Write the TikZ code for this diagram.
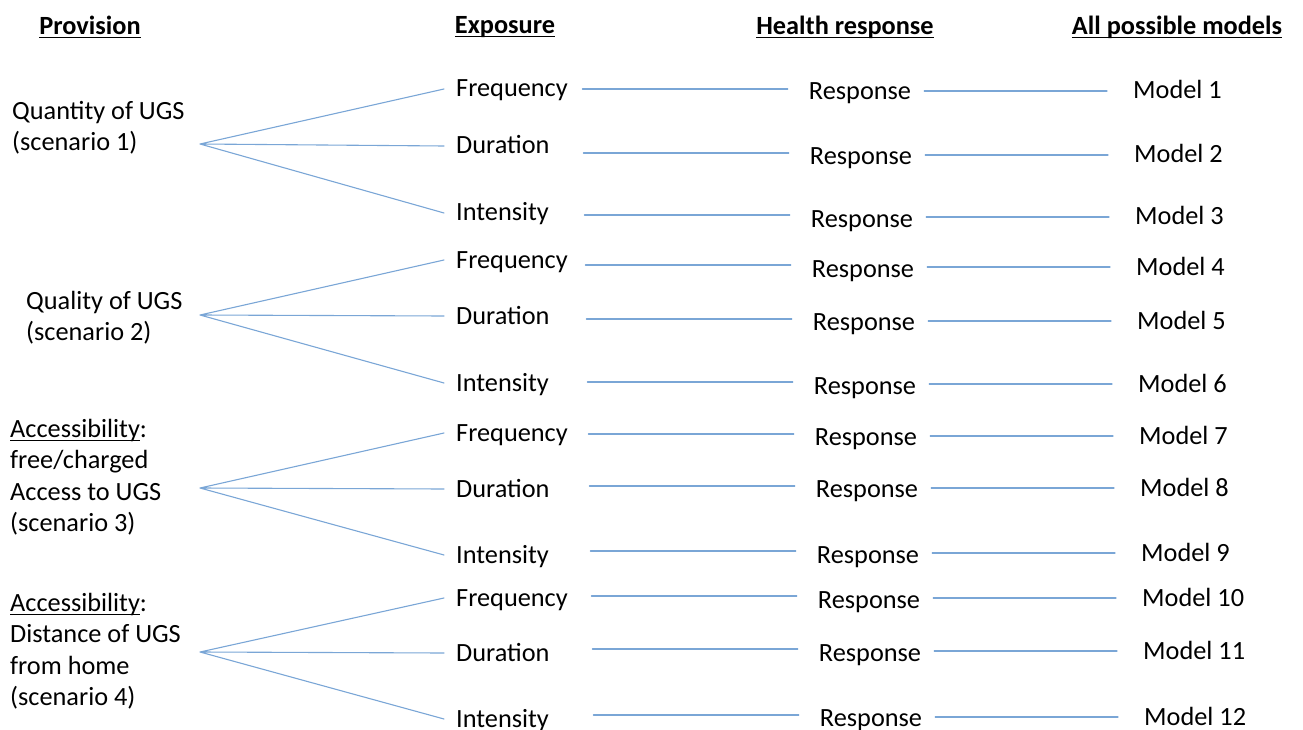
\documentclass[tikz,border=0pt]{standalone}
\usepackage{fontspec}
\setmainfont{Carlito}
\usetikzlibrary{calc}
\definecolor{linkblue}{RGB}{122,166,214}
\newlength\undlw
\newcommand{\undl}[1]{\settowidth{\undlw}{#1}\rlap{\rule[-4pt]{\undlw}{1.3pt}}#1}
\newcommand{\bodyfont}{\fontsize{26.3}{31.5}\selectfont}
\tikzset{
	link/.style={draw=linkblue, line width=1.1pt},
	head/.style={font=\bodyfont\bfseries, inner sep=0pt},
	prov/.style={anchor=west, align=left, inner sep=0pt},
	expo/.style={anchor=west, text width=114pt, inner xsep=12pt, inner ysep=0pt, text height=16pt, text depth=0pt},
	resp/.style={inner sep=0pt, text height=16pt, text depth=0pt},
	model/.style={anchor=west, inner sep=0pt, text height=16pt, text depth=0pt},
}
\begin{document}
\begin{tikzpicture}[
	x=1pt,
	y=-1pt,
	line join=round,
	line cap=round,
	font=\bodyfont,
	]
\useasboundingbox (0,0) rectangle (1303,730);
\node[head] (hprov) at (90,27) {\undl{Provision}};
\node[head] (hexpo) at (505,27) {\undl{Exposure}};
\node[head] (hresp) at (845,27) {\undl{Health response}};
\node[head] (hmodel) at (1177,27) {\undl{All possible models}};
\node[prov] (quantity) at (12,127.5) {Quantity of UGS\\(scenario 1)};
\node[prov] (quality) at (26,317.5) {Quality of UGS\\(scenario 2)};
\node[prov] (charge) at (10,477) {\undl{Accessibility}:\\free/charged\\Access to UGS\\(scenario 3)};
\node[prov] (distance) at (10,651) {\undl{Accessibility}:\\Distance of UGS\\from home\\(scenario 4)};
\coordinate (q) at (200,144);
\coordinate (u) at (200,315);
\coordinate (c) at (200,488);
\coordinate (d) at (200,652);
\foreach \i/\lab/\ey/\ry/\my in {
	1/Frequency/89/92/91, 2/Duration/146/157/155, 3/Intensity/213/219/217,
	4/Frequency/260/269/267, 5/Duration/316/322/321, 6/Intensity/383/386/384,
	7/Frequency/433/437/436, 8/Duration/489/489/488, 9/Intensity/555/555/553,
	10/Frequency/598/600/598, 11/Duration/653/653/651, 12/Intensity/719/718/717}
	{
	\node[expo] (e\i) at (444,\ey) {\lab};
	\node[resp] (r\i) at (859+\i,\ry) {Response};
	\node[model] (m\i) at (1132+\i,\my) {Model \i};
	\draw[link] ($(e\i.east |- m\i.west)+(\i-1,-2)$) -- ($(r\i.west |- m\i.west)+(-21,-2)$);
	\draw[link] ($(r\i.east |- m\i.west)+(13,0)$) -- ($(m\i.west)+(-26,0)$);
	}
\foreach \p/\a/\b/\c in {q/1/2/3, u/4/5/6, c/7/8/9, d/10/11/12}
	\draw[link] (e\a.west) -- (\p) -- (e\c.west) (\p) -- (e\b.west);
\end{tikzpicture}
\end{document}
